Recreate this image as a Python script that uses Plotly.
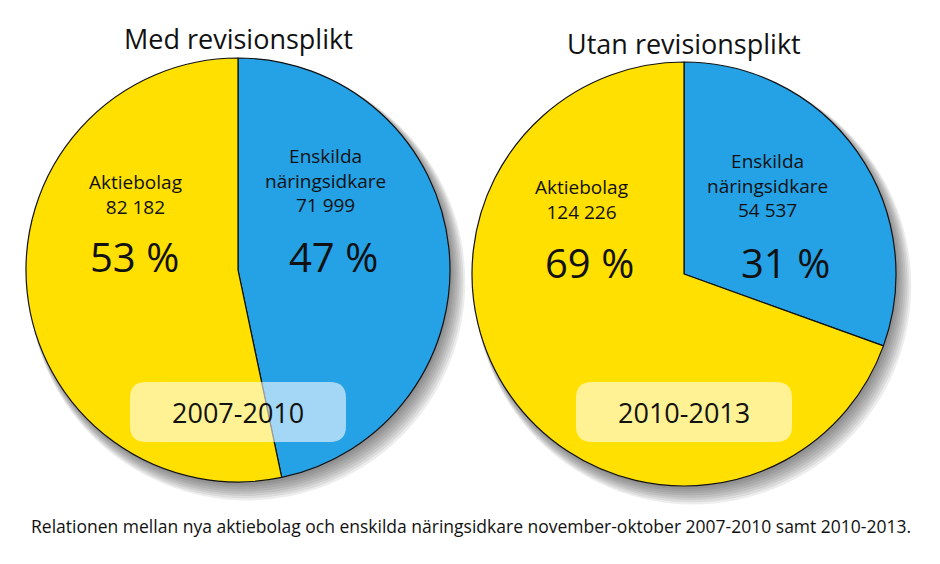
import plotly.graph_objects as go

W, H = 940, 564
OFF = 8  # page body margin that shifts the figure in the browser

# data
categories = ["Enskilda näringsidkare", "Aktiebolag"]
label_lines = [["Enskilda", "näringsidkare"], ["Aktiebolag"]]
values_0710 = [71999, 82182]
values_1013 = [54537, 124226]
periods = ["2007-2010", "2010-2013"]
titles = ["Med revisionsplikt", "Utan revisionsplikt"]
footer = ("Relationen mellan nya aktiebolag och enskilda näringsidkare "
          "november-oktober 2007-2010 samt 2010-2013.")
colors = ["#25A1E6", "#FFE000"]
FONT = "Open Sans, Noto Sans, sans-serif"


def px_x(px):
    return (px - OFF) / W


def px_y(py):
    return 1 - (py - OFF) / H


def fmt(v):
    return f"{v:,}".replace(",", " ")


def note(text, x, y, size):
    return dict(text=text, x=px_x(x), y=px_y(y), xref="paper", yref="paper",
                xanchor="center", yanchor="middle", showarrow=False,
                font=dict(family=FONT, size=size, color="#111111"))


# pie boxes in pixels: left, top, size
pies = [
    {"vals": values_0710, "box": (26, 58, 424), "title_y": 39, "period_y": 412,
     "lab": [(325, 180, 333, 257), (135, 194, 134, 257)]},
    {"vals": values_1013, "box": (472, 62, 424), "title_y": 43, "period_y": 412,
     "lab": [(767, 185, 785, 262), (581, 199, 589, 262)]},
]

fig = go.Figure()
shapes = []
annotations = []

for i, p in enumerate(pies):
    left, top, size = p["box"]
    cx = left + size / 2
    fig.add_trace(go.Pie(
        labels=categories,
        values=p["vals"],
        sort=False,
        direction="clockwise",
        rotation=0,
        textinfo="none",
        hoverinfo="label+value+percent",
        marker=dict(colors=colors, line=dict(color="#111111", width=1.2)),
        domain=dict(x=[px_x(left), px_x(left + size)],
                    y=[px_y(top + size), px_y(top)]),
        showlegend=False,
    ))

    # soft drop shadow behind the pie
    for k in range(8):
        dx, dy, grow = 2 + k, 3 + k * 1.3, k * 0.9
        shapes.append(dict(
            type="circle", xref="paper", yref="paper", layer="below",
            x0=px_x(left + dx - grow), x1=px_x(left + size + dx + grow),
            y0=px_y(top + size + dy + grow), y1=px_y(top + dy - grow),
            fillcolor="rgba(50,50,50,0.09)", line=dict(width=0),
        ))

    annotations.append(note(titles[i], cx, p["title_y"], 27))

    # slice labels
    total = sum(p["vals"])
    for j, v in enumerate(p["vals"]):
        tx, ty, bx, by = p["lab"][j]
        annotations.append(note("<br>".join(label_lines[j] + [fmt(v)]), tx, ty, 19))
        annotations.append(note(f"{round(100 * v / total)} %", bx, by, 40))

    # period box with rounded corners
    x0, x1 = cx - 108, cx + 108
    y0, y1 = p["period_y"] - 30, p["period_y"] + 30
    r = 16
    path = (f"M {px_x(x0 + r)},{px_y(y0)} L {px_x(x1 - r)},{px_y(y0)} "
            f"Q {px_x(x1)},{px_y(y0)} {px_x(x1)},{px_y(y0 + r)} "
            f"L {px_x(x1)},{px_y(y1 - r)} Q {px_x(x1)},{px_y(y1)} {px_x(x1 - r)},{px_y(y1)} "
            f"L {px_x(x0 + r)},{px_y(y1)} Q {px_x(x0)},{px_y(y1)} {px_x(x0)},{px_y(y1 - r)} "
            f"L {px_x(x0)},{px_y(y0 + r)} Q {px_x(x0)},{px_y(y0)} {px_x(x0 + r)},{px_y(y0)} Z")
    shapes.append(dict(
        type="path", path=path, xref="paper", yref="paper", layer="above",
        fillcolor="rgba(255,255,255,0.58)", line=dict(width=0),
    ))
    annotations.append(note(periods[i], cx, p["period_y"], 27))

annotations.append(note(footer, 471, 526, 17.5))

fig.update_layout(
    width=W, height=H,
    margin=dict(l=0, r=0, t=0, b=0),
    paper_bgcolor="white", plot_bgcolor="white",
    shapes=shapes, annotations=annotations,
)

fig.write_html("out.html")
